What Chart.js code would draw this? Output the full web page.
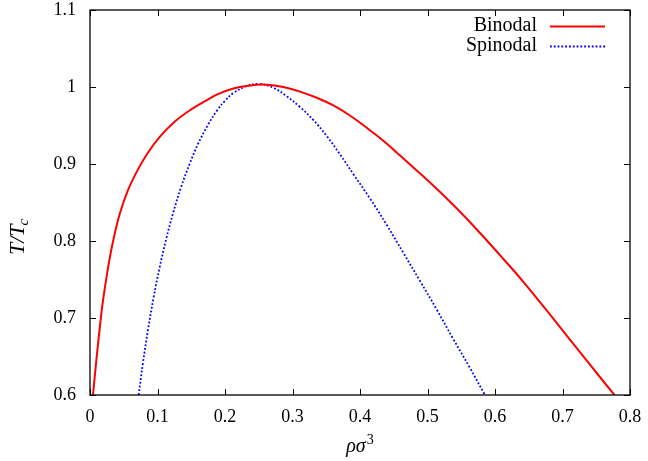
<!DOCTYPE html>
<html>
<head>
<meta charset="utf-8">
<script src="https://cdn.jsdelivr.net/npm/chart.js@4.4.0/dist/chart.umd.min.js"></script>
<style>
  html, body { margin: 0; padding: 0; background: #fff; }
</style>
</head>
<body>
<canvas id="chart" width="648" height="461"></canvas>
<script>
// ── DATA ───────────────────────────────────────────────────
const binodalRho = [0.0044, 0.0094, 0.0143, 0.0193, 0.0267, 0.034, 0.044, 0.0563, 0.0711, 0.086, 0.103,
  0.1254, 0.150, 0.175, 0.1877, 0.2123, 0.237, 0.2617, 0.2864, 0.311, 0.336, 0.3605, 0.385, 0.410,
  0.435, 0.4593, 0.5037, 0.538, 0.573, 0.607, 0.642, 0.691, 0.741, 0.777];
const binodalT = [0.600, 0.645, 0.686, 0.723, 0.765, 0.799, 0.835, 0.866, 0.893, 0.915, 0.935,
  0.955, 0.971, 0.984, 0.990, 0.998, 1.002, 1.003, 1.000, 0.994, 0.986, 0.976, 0.963, 0.947,
  0.930, 0.911, 0.876, 0.847, 0.815, 0.782, 0.747, 0.694, 0.639, 0.600];

const spinodalRho = [0.0721, 0.0785, 0.086, 0.0943, 0.103, 0.113, 0.123, 0.135, 0.148, 0.160, 0.175,
  0.1886, 0.200, 0.2123, 0.232, 0.250, 0.2716, 0.2914, 0.311, 0.331, 0.351, 0.370, 0.390, 0.415,
  0.4395, 0.464, 0.489, 0.5136, 0.538, 0.563, 0.585];
const spinodalT = [0.600, 0.642, 0.685, 0.727, 0.765, 0.803, 0.836, 0.870, 0.901, 0.926, 0.951,
  0.970, 0.982, 0.992, 1.001, 1.004, 0.999, 0.988, 0.974, 0.957, 0.936, 0.913, 0.887, 0.855,
  0.821, 0.785, 0.748, 0.711, 0.673, 0.635, 0.600];

const xTickValues = [0, 0.1, 0.2, 0.3, 0.4, 0.5, 0.6, 0.7, 0.8];
const xTickLabels = ['0', '0.1', '0.2', '0.3', '0.4', '0.5', '0.6', '0.7', '0.8'];
const yTickValues = [0.6, 0.7, 0.8, 0.9, 1.0, 1.1];
const yTickLabels = ['0.6', '0.7', '0.8', '0.9', '1', '1.1'];

const SERIF = '"Liberation Serif", "DejaVu Serif", serif';

const toPoints = (xs, ys) => xs.map((x, i) => ({ x, y: ys[i] }));

// ── FRAME, INWARD TICKS, TITLES, LEGEND ───────────────────
const gnuplotLook = {
  id: 'gnuplotLook',
  afterDatasetsDraw(chart) {
    const { ctx, chartArea: a, scales: { x, y } } = chart;
    ctx.save();
    ctx.strokeStyle = '#000';
    ctx.lineWidth = 1;
    ctx.beginPath();
    xTickValues.forEach(v => {
      const px = Math.round(x.getPixelForValue(v)) + 0.5;
      ctx.moveTo(px, a.bottom); ctx.lineTo(px, a.bottom - 6);
      ctx.moveTo(px, a.top); ctx.lineTo(px, a.top + 6);
    });
    yTickValues.forEach(v => {
      const py = Math.round(y.getPixelForValue(v)) + 0.5;
      ctx.moveTo(a.left, py); ctx.lineTo(a.left + 6, py);
      ctx.moveTo(a.right, py); ctx.lineTo(a.right - 6, py);
    });
    ctx.stroke();
    ctx.lineWidth = 1.3;
    ctx.strokeRect(a.left, a.top, a.right - a.left, a.bottom - a.top);

    // x title: rho sigma^3
    ctx.fillStyle = '#000';
    ctx.textBaseline = 'alphabetic';
    ctx.textAlign = 'left';
    ctx.font = 'italic 20px ' + SERIF;
    const xt = 'ρσ';
    const xw = ctx.measureText(xt).width;
    const cx = (a.left + a.right) / 2 - (xw + 8) / 2;
    ctx.fillText(xt, cx, 452);
    ctx.font = '14px ' + SERIF;
    ctx.fillText('3', cx + xw + 1, 444);

    // y title: T/T_c
    ctx.translate(17, 255);
    ctx.rotate(-Math.PI / 2);
    ctx.font = 'italic 22px ' + SERIF;
    const main = 'T/T';
    ctx.fillText(main, 0, 7);
    const w = ctx.measureText(main).width;
    ctx.font = 'italic 15px ' + SERIF;
    ctx.fillText('c', w - 1, 11);
    ctx.restore();

    // legend
    ctx.save();
    ctx.font = '20px ' + SERIF;
    ctx.textAlign = 'right';
    ctx.textBaseline = 'middle';
    chart.data.datasets.forEach((ds, i) => {
      const ly = 26 + i * 20;
      ctx.fillStyle = '#000';
      ctx.fillText(ds.label, 537, ly);
      ctx.strokeStyle = ds.borderColor;
      ctx.lineWidth = ds.borderWidth;
      ctx.setLineDash(ds.borderDash || []);
      ctx.beginPath();
      ctx.moveTo(550, ly + 0.5);
      ctx.lineTo(605, ly + 0.5);
      ctx.stroke();
    });
    ctx.restore();
  }
};

new Chart(document.getElementById('chart'), {
  type: 'scatter',
  data: {
    datasets: [
      {
        label: 'Binodal',
        data: toPoints(binodalRho, binodalT),
        showLine: true,
        borderColor: '#ff0000',
        borderWidth: 2,
        pointRadius: 0,
        tension: 0.4,
      },
      {
        label: 'Spinodal',
        data: toPoints(spinodalRho, spinodalT),
        showLine: true,
        borderColor: '#0000ff',
        borderWidth: 1.8,
        borderDash: [1.8, 2],
        pointRadius: 0,
        tension: 0.4,
      },
    ],
  },
  options: {
    responsive: false,
    animation: false,
    layout: { padding: { top: 10, right: 18, bottom: 0, left: 0 } },
    plugins: {
      legend: { display: false },
      tooltip: { enabled: false },
    },
    scales: {
      x: {
        type: 'linear',
        min: 0, max: 0.8,
        afterFit: s => { s.height = 66; s.paddingLeft = 0; s.paddingRight = 0; },
        afterBuildTicks: s => { s.ticks = xTickValues.map(v => ({ value: v })); },
        grid: { display: false, drawTicks: false },
        border: { display: false },
        ticks: {
          padding: 11,
          color: '#000',
          font: { family: SERIF, size: 18 },
          maxRotation: 0,
          callback: (v, i) => xTickLabels[i],
        },
      },
      y: {
        type: 'linear',
        min: 0.6, max: 1.1,
        afterFit: s => { s.width = 90; s.paddingTop = 0; s.paddingBottom = 0; },
        afterBuildTicks: s => { s.ticks = yTickValues.map(v => ({ value: v })); },
        grid: { display: false, drawTicks: false },
        border: { display: false },
        ticks: {
          padding: 14,
          color: '#000',
          font: { family: SERIF, size: 18 },
          callback: (v, i) => yTickLabels[i],
        },
      },
    },
  },
  plugins: [gnuplotLook],
});
</script>
</body>
</html>
